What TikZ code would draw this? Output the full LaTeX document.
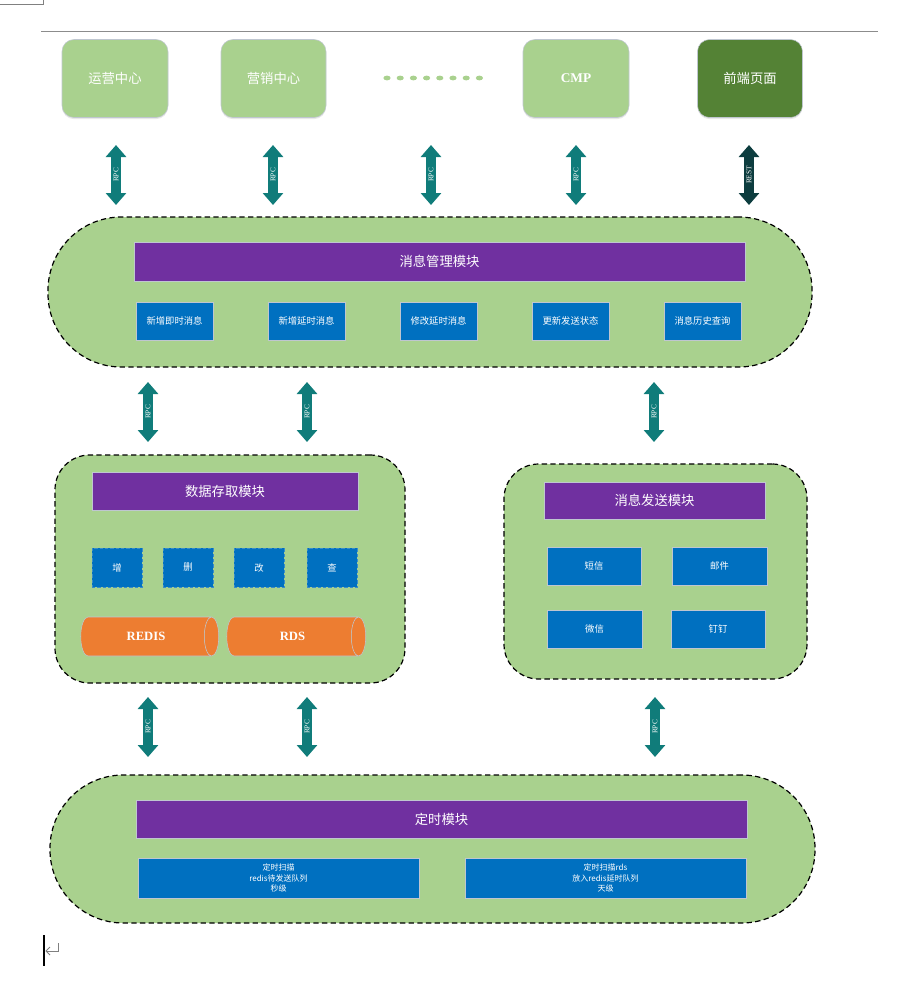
\documentclass[tikz,border=0pt]{standalone}
\usepackage{fontspec}
\setmainfont{Noto Sans CJK SC}
\newfontfamily\latinserif{Liberation Serif}
\usetikzlibrary{shapes.geometric,arrows.meta,shadows}
\definecolor{lgreen}{HTML}{A9D18E}
\definecolor{dgreen}{HTML}{548235}
\definecolor{mpurple}{HTML}{7030A0}
\definecolor{mblue}{HTML}{0070C0}
\definecolor{morange}{HTML}{ED7D31}
\definecolor{mteal}{HTML}{107C7A}
\definecolor{mdteal}{HTML}{0D3D3F}
\definecolor{edgegray}{HTML}{BFC6D0}
\definecolor{dashblue}{HTML}{3A8CC8}
\tikzset{
  sz/.style 2 args={minimum width={#1*0.75pt}, minimum height={#2*0.75pt}, inner sep=0pt},
  topbox/.style={draw=edgegray, fill=lgreen, rounded corners=9pt, text=white,
    font=\fontsize{10}{12}\selectfont, drop shadow={opacity=0.18, shadow xshift=0pt, shadow yshift=-1.2pt}},
  pill/.style={draw=black, line width=0.9pt, dash pattern=on 4pt off 2.5pt, fill=lgreen},
  titlebar/.style={draw=edgegray, fill=mpurple, text=white, font=\fontsize{10}{12}\selectfont},
  bluebox/.style={draw=edgegray, fill=mblue, text=white, font=\fontsize{7}{9}\selectfont},
  dashbox/.style={draw=dashblue, dash pattern=on 2.5pt off 1.5pt, line width=0.6pt, fill=mblue, text=white, font=\fontsize{7}{9}\selectfont},
  cyl/.style={shape=cylinder, shape aspect=1.7, draw=edgegray, cylinder uses custom fill,
    cylinder body fill=morange, cylinder end fill=morange, text=white, font=\latinserif\bfseries\fontsize{9.5}{11}\selectfont},
  rpcarrow/.style={draw=mteal, line width=7.5pt, {Triangle[width=15pt,length=9pt]}-{Triangle[width=15pt,length=9pt]}},
  restarrow/.style={rpcarrow, draw=mdteal},
  arrowlabel/.style={midway, sloped, text=white, inner sep=0pt, font=\latinserif\fontsize{5.5}{6}\selectfont},
}
\begin{document}
\begin{tikzpicture}[x=0.75pt,y=-0.75pt]
\useasboundingbox (0,0) rectangle (906,1001);
% page decorations
\draw[gray, line width=0.75pt] (0,4) -- (43,4) -- (43,0);
\draw[gray!90, line width=0.75pt] (41,31) -- (878,31);
\draw[black, line width=0.9pt] (44,935) -- (44,966);
\draw[gray, line width=0.75pt] (58,943) -- (58,951) -- (46,951);
\draw[gray, line width=0.75pt] (50,947) -- (46,951) -- (50,955);

% top row
\node[topbox, sz={106}{78}] (yy) at (115,78.5) {运营中心};
\node[topbox, sz={105}{78}] (yx) at (273.5,78.5) {营销中心};
\node[topbox, sz={106}{78}] (cmp) at (576,78.5) {\latinserif\bfseries CMP};
\node[topbox, sz={105}{78}, fill=dgreen] (qd) at (750,78.5) {前端页面};
\foreach \i in {0,...,7}{
  \fill[lgreen] (387+\i*13.2,78) ellipse (3.6 and 2.4);
}

% message management pill
\node[pill, sz={764}{150}, rounded corners=55pt] (mgr) at (430,292) {};
\node[titlebar, sz={611}{39}] (mgrt) at (439.5,261.5) {消息管理模块};
\node[bluebox, sz={77}{38}] (m1) at (174.5,321) {新增即时消息};
\node[bluebox, sz={77}{38}] (m2) at (306.5,321) {新增延时消息};
\node[bluebox, sz={77}{38}] (m3) at (438.5,321) {修改延时消息};
\node[bluebox, sz={77}{38}] (m4) at (570.5,321) {更新发送状态};
\node[bluebox, sz={77}{38}] (m5) at (702.5,321) {消息历史查询};

% data module
\node[pill, sz={350}{228}, rounded corners=26pt] (data) at (230,569) {};
\node[titlebar, sz={266}{38}] (datat) at (225,491) {数据存取模块};
\node[dashbox, sz={50}{39}] (d1) at (117,567.5) {增};
\node[dashbox, sz={50}{39}] (d2) at (188,567.5) {删};
\node[dashbox, sz={50}{39}] (d3) at (259,567.5) {改};
\node[dashbox, sz={50}{39}] (d4) at (332,567.5) {查};
\node[cyl, sz={39}{138}] (redis) at (146,636.5) {REDIS};
\node[cyl, sz={39}{139}] (rds) at (292.5,636.5) {RDS};

% send module
\node[pill, sz={303}{215}, rounded corners=26pt] (send) at (655.5,571.5) {};
\node[titlebar, sz={221}{37}] (sendt) at (654.5,500.5) {消息发送模块};
\node[bluebox, sz={94}{38}] (s1) at (594,566) {短信};
\node[bluebox, sz={95}{38}] (s2) at (719.5,566) {邮件};
\node[bluebox, sz={95}{38}] (s3) at (594.5,629) {微信};
\node[bluebox, sz={94}{38}] (s4) at (718,629) {钉钉};

% timer pill
\node[pill, sz={765}{148}, rounded corners=55pt] (timer) at (432.5,849) {};
\node[titlebar, sz={611}{38}] (timert) at (441.5,819) {定时模块};
\node[bluebox, sz={281}{40}, align=center, font=\fontsize{6}{8}\selectfont] (t1) at (278.5,878) {定时扫描\\redis待发送队列\\秒级};
\node[bluebox, sz={281}{40}, align=center, font=\fontsize{6}{8}\selectfont] (t2) at (605.5,878) {定时扫描rds\\放入redis延时队列\\天级};

% arrow end points
\foreach \n/\x in {a1/116,a2/273,a3/431,a4/576,a5/749}{
  \coordinate (\n t) at (\x,145); \coordinate (\n b) at (\x,205);
}
\foreach \n/\x in {b1/148,b2/307,b3/654}{
  \coordinate (\n t) at (\x,382); \coordinate (\n b) at (\x,442);
}
\foreach \n/\x in {c1/148,c2/307,c3/655}{
  \coordinate (\n t) at (\x,697); \coordinate (\n b) at (\x,757);
}
\foreach \n in {a1,a2,a3,a4,b1,b2,b3,c1,c2,c3}{
  \draw[rpcarrow] (\n b) -- (\n t) node[arrowlabel] {RPC};
}
\draw[restarrow] (a5b) -- (a5t) node[arrowlabel] {REST};
\end{tikzpicture}
\end{document}
